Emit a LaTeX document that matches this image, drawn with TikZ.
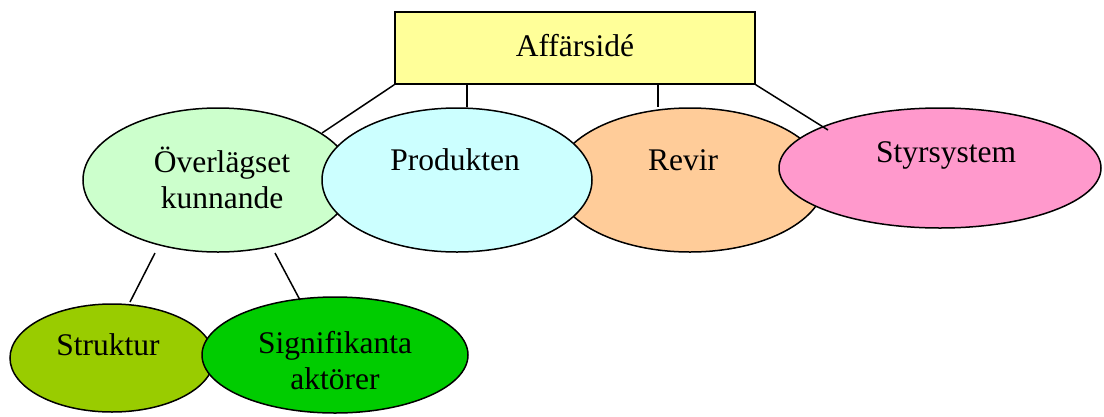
\documentclass[tikz,border=0pt]{standalone}
\usepackage{fontspec}
\setmainfont{Liberation Serif}
\usetikzlibrary{shapes.geometric}
\definecolor{cTop}{HTML}{FFFF99}
\definecolor{cOv}{HTML}{CCFFCC}
\definecolor{cProd}{HTML}{CCFFFF}
\definecolor{cRev}{HTML}{FFCC99}
\definecolor{cStyr}{HTML}{FF99CC}
\definecolor{cStr}{HTML}{99CC00}
\definecolor{cSig}{HTML}{00CC00}
\tikzset{
  x=1pt, y=-1pt,
  oval/.style={ellipse, draw=black, line width=1.5pt, inner sep=0pt},
  lbl/.style={font=\fontsize{31.5}{36}\selectfont, align=center, inner sep=0pt},
  conn/.style={draw=black, line width=1.5pt},
}
\begin{document}
\begin{tikzpicture}
\useasboundingbox (0,0) rectangle (1104,416);
\node[draw=black, line width=1.5pt, fill=cTop, minimum width=360pt, minimum height=72pt, inner sep=0pt] (top) at (575,48) {};
\node[lbl] (topt) at (575,46) {Affärsidé};

\node[oval, fill=cOv, minimum width=270pt, minimum height=144pt] (ov) at (218,180) {};
\node[oval, fill=cRev, minimum width=270pt, minimum height=144pt] (rev) at (690,180) {};
\node[oval, fill=cProd, minimum width=270pt, minimum height=144pt] (prod) at (457,180) {};
\node[oval, fill=cStyr, minimum width=322pt, minimum height=120pt] (styr) at (940,168) {};
\node[oval, fill=cStr, minimum width=204pt, minimum height=108pt] (str) at (112,358) {};
\node[oval, fill=cSig, minimum width=266pt, minimum height=116pt] (sig) at (335,355) {};

\node[lbl] (ovt) at (222,178) {Överlägset\\kunnande};
\node[lbl] (prodt) at (455,160) {Produkten};
\node[lbl] (revt) at (683,160) {Revir};
\node[lbl] (styrt) at (946,155) {Styrsystem};
\node[lbl] (strt) at (108,345) {Struktur};
\node[lbl] (sigt) at (335,361) {Signifikanta\\aktörer};

\coordinate (e1) at (322,133);
\coordinate (e2) at (467,107);
\coordinate (e3) at (658,107);
\coordinate (e4) at (828,130);
\coordinate (s1) at (155,253);
\coordinate (s2) at (275,253);
\coordinate (t1) at (130,302);
\coordinate (t2) at (300,300);

\draw[conn] (top.south west) -- (e1);
\draw[conn] (top.south -| e2) -- (e2);
\draw[conn] (top.south -| e3) -- (e3);
\draw[conn] (top.south east) -- (e4);
\draw[conn] (s1) -- (t1);
\draw[conn] (s2) -- (t2);
\end{tikzpicture}
\end{document}
